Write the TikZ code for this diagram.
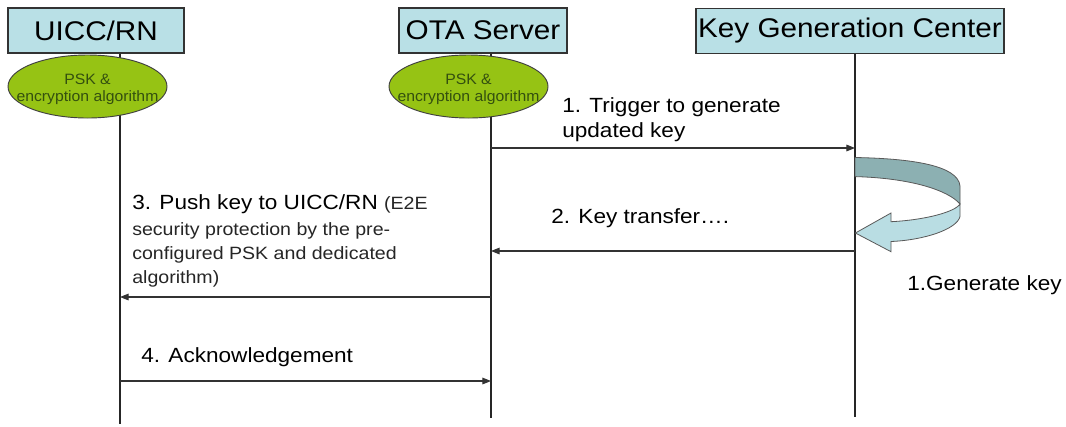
\documentclass[tikz,border=0pt]{standalone}
\usepackage{graphicx}
\usepackage{fontspec}
\setmainfont{Liberation Sans}
\usetikzlibrary{arrows.meta,shapes.geometric}
\definecolor{hdrfill}{RGB}{185,224,230}
\definecolor{pskfill}{RGB}{150,195,20}
\definecolor{psktext}{RGB}{52,80,15}
\definecolor{bandback}{RGB}{140,176,178}
\definecolor{bandfront}{RGB}{185,221,227}
\newcommand{\stretchx}[1]{\scalebox{1.1}[1]{#1}}
\begin{document}
\begin{tikzpicture}[x=0.75pt,y=-0.75pt,
  hdr/.style={draw=black!80, line width=0.8pt, fill=hdrfill, minimum height=33.75pt,
    inner sep=0pt, font=\fontsize{20.25}{24}\selectfont},
  life/.style={draw=black!85, line width=0.8pt},
  pskell/.style={ellipse, draw=black!75, line width=0.7pt, fill=pskfill,
    minimum width=119.25pt, minimum height=47.25pt, inner sep=0pt},
  psklabel/.style={align=center, inner sep=0pt, xscale=1.05, text=psktext,
    font=\fontsize{11.25}{12.75}\selectfont},
  msgtext/.style={anchor=base west, inner sep=0pt, font=\fontsize{15.4}{18.75}\selectfont},
  subtext/.style={anchor=base west, inner sep=0pt, text=black!85, font=\fontsize{13.35}{18}\selectfont},
  msg/.style={draw=black!80, line width=0.8pt, -{Triangle[length=6.5pt,width=5pt]}},
  band/.style={draw=black!65, line width=0.6pt}
]
\fill[white] (0,0) rectangle (1066,426);
\useasboundingbox (0,0) rectangle (1066,426);

% headers
\node[hdr, minimum width=132pt] (uicc) at (96,30.5) {\stretchx{UICC/RN}};
\node[hdr, minimum width=126pt] (ota) at (483,30.5) {\stretchx{OTA Server}};
\node[hdr, minimum width=231pt] (kgc) at (850,31) {\stretchx{Key Generation Center}};

% lifelines
\coordinate (uend) at (120,424);
\coordinate (oend) at (491,418);
\coordinate (kend) at (855,417);
\draw[life] (uicc.south -| uend) -- (uend);
\draw[life] (ota.south -| oend) -- (oend);
\draw[life] (kgc.south -| kend) -- (kend);

% PSK ellipses
\node[pskell] (ue) at (87.5,86.5) {};
\node[psklabel] (uet) at ([yshift=-2pt]ue.center) {PSK \&\\encryption algorithm};
\node[pskell] (oe) at (468.5,86.5) {};
\node[psklabel] (oet) at ([yshift=-2pt]oe.center) {PSK \&\\encryption algorithm};

% message end points on the lifelines
\coordinate (o1) at (491,148);
\coordinate (k1) at (855,148);
\coordinate (k2) at (855,251);
\coordinate (o2) at (491,251);
\coordinate (o3) at (491,297);
\coordinate (u3) at (120,297);
\coordinate (u4) at (120,381);
\coordinate (o4) at (491,381);

\draw[msg] (o1) -- (k1);
\draw[msg] (k2) -- (o2);
\draw[msg] (o3) -- (u3);
\draw[msg] (u4) -- (o4);

% labels
\node[msgtext] (t1a) at (562,112) {\stretchx{1. Trigger to generate}};
\node[msgtext] (t1b) at (562,137) {\stretchx{updated key}};
\node[msgtext] (t2) at (551,223) {\stretchx{2. Key transfer….}};
\node[msgtext] (t3a) at (132,209) {\stretchx{3. Push key to UICC/RN {\fontsize{13.35}{16}\selectfont\color{black!85}(E2E}}};
\node[subtext] (t3b) at (132,235) {\stretchx{security protection by the pre-}};
\node[subtext] (t3c) at (132,259) {\stretchx{configured PSK and dedicated}};
\node[subtext] (t3d) at (132,283) {\stretchx{algorithm)}};
\node[msgtext] (t4) at (141,362) {\stretchx{4. Acknowledgement}};
\node[msgtext] (gk) at (907,290) {\stretchx{1.Generate key}};

% circular "generate key" arrow
\filldraw[band, fill=bandback]
  (855,157.5) .. controls (910,158.5) and (958,165) .. (960,186)
  -- (960,204) .. controls (948,190) and (910,178) .. (855,176.6) -- cycle;
\filldraw[band, fill=bandfront]
  (960,204) -- (960,216.5) .. controls (957,229) and (925,240) .. (891,241.5)
  -- (891,251.7) -- (855.4,233) -- (891,213) -- (891,221.7)
  .. controls (925,220) and (955,212) .. (960,204) -- cycle;
\end{tikzpicture}
\end{document}
